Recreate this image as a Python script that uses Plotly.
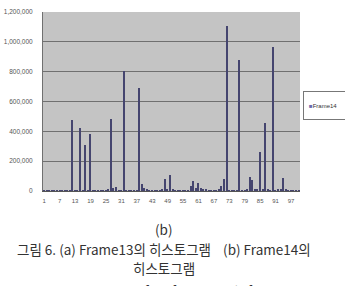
import plotly.graph_objects as go

categories = list(range(1, 101))
frame14 = [
    3000, 2000, 4000, 2000, 3000, 2000, 3000, 4000, 2000, 3000,
    5000, 478000, 3000, 4000, 422000, 3000, 307000, 5000, 383000, 3000,
    2000, 3000, 2000, 4000, 6000, 8000, 482000, 22000, 29000, 5000,
    6000, 807000, 4000, 3000, 4000, 5000, 6000, 691000, 45000, 22000,
    8000, 4000, 3000, 2000, 3000, 4000, 10000, 78000, 8000, 107000,
    12000, 6000, 5000, 3000, 2000, 3000, 5000, 33000, 69000, 20000,
    51000, 17000, 10000, 12000, 6000, 3000, 2000, 3000, 8000, 35000,
    78000, 1105000, 6000, 4000, 3000, 5000, 880000, 4000, 6000, 10000,
    91000, 73000, 8000, 12000, 260000, 7000, 458000, 10000, 5000, 967000,
    6000, 8000, 12000, 89000, 10000, 6000, 4000, 5000, 3000, 4000,
]
series_name = "Frame14"
x_ticks = list(range(1, 101, 6))
y_ticks = [0, 200000, 400000, 600000, 800000, 1000000, 1200000]
y_labels = ["0", "200,000", "400,000", "600,000", "800,000", "1,000,000", "1,200,000"]

bar_color = "#45456f"

fig = go.Figure()
fig.add_trace(go.Bar(
    x=categories, y=frame14, name=series_name,
    marker=dict(color=bar_color, line=dict(width=0)),
    width=0.55,
))

fig.update_layout(
    width=345, height=286,
    margin=dict(l=43, r=45, t=12, b=95),
    paper_bgcolor="white",
    plot_bgcolor="#c4c4c4",
    font=dict(family="Liberation Sans, Arial", color="#444"),
    bargap=0,
    showlegend=False,
    xaxis=dict(
        range=[0.5, 100.5], tickmode="array", tickvals=x_ticks,
        ticktext=[str(t) for t in x_ticks],
        tickfont=dict(size=6, color="#555"),
        showgrid=False, showline=True, linecolor="#555", linewidth=1,
        ticks="", zeroline=False, ticklabelstandoff=4, automargin=False,
    ),
    yaxis=dict(
        range=[0, 1200000], tickmode="array", tickvals=y_ticks,
        ticktext=y_labels, tickfont=dict(size=6.5, color="#555"),
        showgrid=True, gridcolor="#707070", gridwidth=1,
        showline=True, linecolor="#707070", linewidth=1,
        ticks="", zeroline=False, ticklabelstandoff=8, automargin=False,
    ),
)

# legend box (Excel style, running off the right edge)
fig.add_annotation(
    text="&nbsp;&nbsp;&nbsp;<span style='color:#6a6ab0'>■</span>" + series_name,
    xref="paper", yref="paper", x=1.0117, y=0.475,
    xanchor="left", yanchor="middle", showarrow=False,
    width=56, height=27, align="left", valign="middle",
    bgcolor="white", bordercolor="#777", borderwidth=1, borderpad=0,
    font=dict(family="Liberation Sans, Arial", size=6, color="#333"),
)

cap_font = "Noto Sans CJK KR"
captions = [
    ("(b)", -0.212),
    ("그림 6. (a) Frame13의 히스토그램    (b) Frame14의", -0.324),
    ("히스토그램", -0.430),
    ("Fig. 6. Histogram of (a) frame13, (b)frame14", -0.559),
]
for txt, yy in captions:
    fig.add_annotation(text=txt, xref="paper", yref="paper", x=0.5, y=yy,
                       xanchor="center", yanchor="middle", showarrow=False,
                       font=dict(family=cap_font, size=13.5, color="#333"),
                       xshift=-8)

fig.write_html("out.html")
